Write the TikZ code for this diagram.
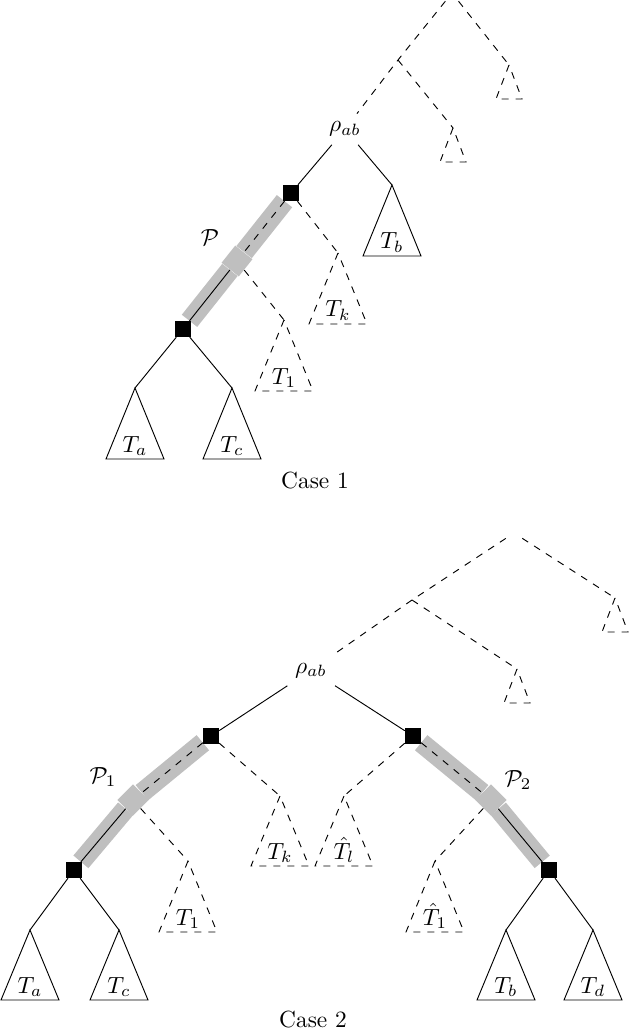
\documentclass[tikz,border=0pt]{standalone}
\usetikzlibrary{backgrounds}
\begin{document}
\begin{tikzpicture}[x=0.428pt,y=-0.428pt,
  sq/.style={rectangle,fill=black,draw=black,minimum size=6.6pt,inner sep=0pt},
  joint/.style={rectangle,fill=gray!50,minimum size=9.4pt,inner sep=0pt},
  band/.style={line width=8.4pt,draw=gray!50,line cap=butt},
  dsh/.style={dashed},
  lbl/.style={anchor=base,inner sep=0pt},
  ]
\useasboundingbox (0,0) rectangle (630,1031);
% ---------------- Case 1 ----------------
\node (A1) at (452,-7) {};
\coordinate (K1) at (398,60);
\coordinate (tr1) at (509,65);
\coordinate (tr2) at (453,128);
\node[anchor=base] (rho1) at (345,132) {$\rho_{ab}$};
\node[sq] (S1) at (291,193) {};
\node[joint,rotate=51.5] (M1) at (237,261) {};
\node[sq] (B1) at (183,329) {};
\coordinate (tb) at (392,185);
\coordinate (tk) at (338,253);
\coordinate (t1) at (284,320);
\coordinate (ta) at (135,388);
\coordinate (tc) at (232,388);
\begin{pgfonlayer}{background}
\draw[band] (S1) -- (M1);
\draw[band] (M1) -- (B1);
\end{pgfonlayer}
\draw[dsh] (A1) -- (K1) -- (rho1);
\draw[dsh] (A1) -- (tr1);
\draw[dsh] (K1) -- (tr2);
\draw (rho1) -- (S1);
\draw (rho1) -- (tb);
\draw[dsh] (S1) -- (M1);
\draw (M1) -- (B1);
\draw[dsh] (S1) -- (tk);
\draw[dsh] (M1) -- (t1);
\draw (B1) -- (ta);
\draw (B1) -- (tc);
\draw[dsh] (tr1) -- ++(-13,34) -- ++(26,0) -- cycle;
\draw[dsh] (tr2) -- ++(-13,34) -- ++(26,0) -- cycle;
\draw (tb) -- ++(-29,71) -- ++(58,0) -- cycle;
\draw[dsh] (tk) -- ++(-29,71) -- ++(58,0) -- cycle;
\draw[dsh] (t1) -- ++(-29,71) -- ++(58,0) -- cycle;
\draw (ta) -- ++(-29,71) -- ++(58,0) -- cycle;
\draw (tc) -- ++(-29,71) -- ++(58,0) -- cycle;
\path (tb) ++(0,64) node[lbl] (ltb) {$T_b$};
\path (tk) ++(0,64) node[lbl] (ltk) {$T_k$};
\path (t1) ++(0,64) node[lbl] (lt1) {$T_1$};
\path (ta) ++(0,64) node[lbl] (lta) {$T_a$};
\path (tc) ++(0,64) node[lbl] (ltc) {$T_c$};
\node (P) at (210,238) {$\mathcal{P}$};
\node[anchor=base] (case1) at (315,488) {Case 1};
% ---------------- Case 2 ----------------
\node (A2) at (514,533) {};
\coordinate (K2) at (412,600);
\coordinate (tr3) at (615,598);
\coordinate (tr4) at (517,669);
\node[anchor=base] (rho2) at (311,673) {$\rho_{ab}$};
\node[sq] (SL) at (211,736) {};
\node[sq] (SR) at (413,736) {};
\node[joint,rotate=45] (ML) at (133,800) {};
\node[joint,rotate=-45] (MR) at (491,800) {};
\node[sq] (BL) at (74,870) {};
\node[sq] (BR) at (549,870) {};
\coordinate (tk2) at (280,796);
\coordinate (tl2) at (344,796);
\coordinate (t12) at (188,861);
\coordinate (th12) at (435,861);
\coordinate (ta2) at (30,930);
\coordinate (tc2) at (119,930);
\coordinate (tb2) at (506,930);
\coordinate (td2) at (593,930);
\begin{pgfonlayer}{background}
\draw[band] (SL) -- (ML);
\draw[band] (ML) -- (BL);
\draw[band] (SR) -- (MR);
\draw[band] (MR) -- (BR);
\end{pgfonlayer}
\draw[dsh] (A2) -- (K2) -- (rho2);
\draw[dsh] (A2) -- (tr3);
\draw[dsh] (K2) -- (tr4);
\draw (rho2) -- (SL);
\draw (rho2) -- (SR);
\draw[dsh] (SL) -- (ML);
\draw (ML) -- (BL);
\draw[dsh] (SR) -- (MR);
\draw (MR) -- (BR);
\draw[dsh] (SL) -- (tk2);
\draw[dsh] (ML) -- (t12);
\draw[dsh] (SR) -- (tl2);
\draw[dsh] (MR) -- (th12);
\draw (BL) -- (ta2);
\draw (BL) -- (tc2);
\draw (BR) -- (tb2);
\draw (BR) -- (td2);
\draw[dsh] (tr3) -- ++(-13,34) -- ++(26,0) -- cycle;
\draw[dsh] (tr4) -- ++(-13,34) -- ++(26,0) -- cycle;
\draw[dsh] (tk2) -- ++(-29,70) -- ++(58,0) -- cycle;
\draw[dsh] (tl2) -- ++(-29,70) -- ++(58,0) -- cycle;
\draw[dsh] (t12) -- ++(-29,71) -- ++(58,0) -- cycle;
\draw[dsh] (th12) -- ++(-29,71) -- ++(58,0) -- cycle;
\draw (ta2) -- ++(-29,70) -- ++(58,0) -- cycle;
\draw (tc2) -- ++(-29,70) -- ++(58,0) -- cycle;
\draw (tb2) -- ++(-29,70) -- ++(58,0) -- cycle;
\draw (td2) -- ++(-29,70) -- ++(58,0) -- cycle;
\path (tk2) ++(0,63) node[lbl] (ltk2) {$T_k$};
\path (tl2) ++(0,63) node[lbl] (ltl2) {$\hat{T}_l$};
\path (t12) ++(0,64) node[lbl] (lt12) {$T_1$};
\path (th12) ++(0,64) node[lbl] (lth12) {$\hat{T}_1$};
\path (ta2) ++(0,63) node[lbl] (lta2) {$T_a$};
\path (tc2) ++(0,63) node[lbl] (ltc2) {$T_c$};
\path (tb2) ++(0,63) node[lbl] (ltb2) {$T_b$};
\path (td2) ++(0,63) node[lbl] (ltd2) {$T_d$};
\node (P1) at (103,777) {$\mathcal{P}_1$};
\node (P2) at (518,780) {$\mathcal{P}_2$};
\node[anchor=base] (case2) at (313,1027) {Case 2};
\end{tikzpicture}
\end{document}
